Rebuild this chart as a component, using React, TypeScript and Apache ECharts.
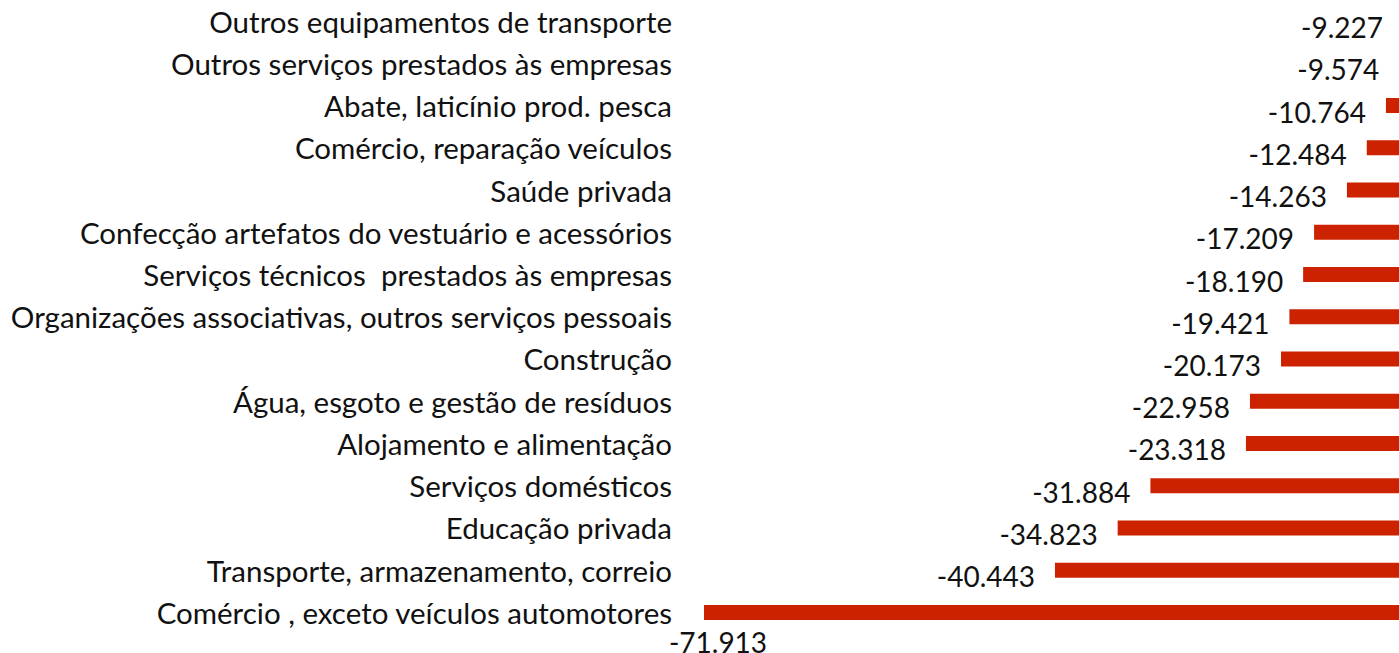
import React, { useEffect, useRef } from "react";
import * as echarts from "echarts";

const categories = [
  "Outros equipamentos de transporte",
  "Outros serviços prestados às empresas",
  "Abate, laticínio prod. pesca",
  "Comércio, reparação veículos",
  "Saúde privada",
  "Confecção artefatos do vestuário e acessórios",
  "Serviços técnicos  prestados às empresas",
  "Organizações associativas, outros serviços pessoais",
  "Construção",
  "Água, esgoto e gestão de resíduos",
  "Alojamento e alimentação",
  "Serviços domésticos",
  "Educação privada",
  "Transporte, armazenamento, correio",
  "Comércio , exceto veículos automotores",
];

const values = [
  -9227, -9574, -10764, -12484, -14263, -17209, -18190, -19421, -20173, -22958,
  -23318, -31884, -34823, -40443, -71913,
];

const fmt = (v: number) => {
  const s = Math.abs(v).toString();
  const parts: string[] = [];
  for (let i = s.length; i > 0; i -= 3) parts.unshift(s.slice(Math.max(0, i - 3), i));
  return (v < 0 ? "-" : "") + parts.join(".");
};

const FONT = "Lato";

export default function App() {
  const ref = useRef<HTMLDivElement>(null);
  useEffect(() => {
    if (!ref.current) return;
    const chart = echarts.init(ref.current, undefined, { renderer: "svg" });
    const minIdx = values.indexOf(Math.min(...values));
    chart.setOption({
      animation: false,
      backgroundColor: "#ffffff",
      grid: { left: 704, width: 802, top: -1, height: 634.5, containLabel: false },
      xAxis: {
        type: "value",
        min: Math.min(...values),
        max: 0,
        show: false,
      },
      yAxis: {
        type: "category",
        data: categories,
        inverse: true,
        axisLine: { show: false },
        axisTick: { show: false },
        splitLine: { show: false },
        axisLabel: {
          fontFamily: FONT,
          fontSize: 29.5,
          color: "#111111",
          margin: 32,
          padding: [13, 0, 0, 0],
        },
      },
      series: [
        {
          type: "bar",
          barWidth: 15,
          itemStyle: { color: "#cc2200" },
          data: values.map((v, i) =>
            i === minIdx
              ? {
                  value: v,
                  label: {
                    position: [14, 37],
                    align: "center",
                    verticalAlign: "middle",
                    offset: [0, 0],
                  },
                }
              : v
          ),
          label: {
            show: true,
            position: "left",
            distance: 20,
            offset: [0, 6],
            fontFamily: FONT,
            fontSize: 28,
            color: "#111111",
            formatter: (p: any) => fmt(p.value),
          },
        },
      ],
    });
    return () => chart.dispose();
  }, []);
  return (
    <div
      style={{
        position: "fixed",
        left: 0,
        top: 0,
        width: 1399,
        height: 653,
        overflow: "hidden",
        background: "#fff",
      }}
    >
      <div ref={ref} style={{ width: 1560, height: 653 }} />
    </div>
  );
}
